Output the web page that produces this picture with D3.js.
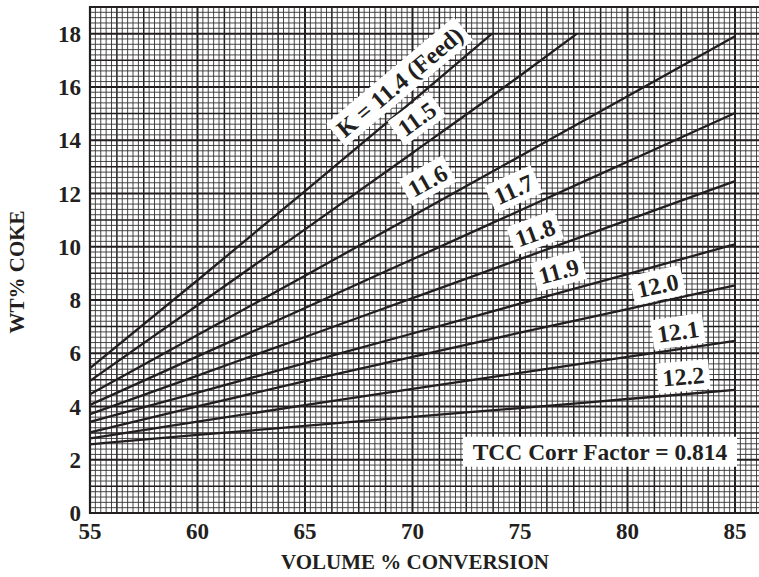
<!DOCTYPE html>
<html>
<head>
<meta charset="utf-8">
<script src="https://cdn.jsdelivr.net/npm/d3@7"></script>
<style>
    body { margin: 0; background: #fff; }
    text { font-family: "Liberation Serif", "Times New Roman", serif; font-weight: bold; fill: #231f20; }
</style>
</head>
<body>
<div id="chart"></div>
<script>

// Volume % conversion points where each curve was read
const conversion = [55, 60, 65, 70, 75, 80, 85];
const conv114 = [55, 60, 65, 70, 73.7];
const conv115 = [55, 60, 65, 70, 75, 77.65];

// Wt% coke for each K factor
const coke114 = [5.44, 8.74, 12.09, 15.47, 18.0];
const coke115 = [4.96, 7.80, 10.65, 13.52, 16.42, 18.0];
const coke116 = [4.46, 6.68, 8.91, 11.15, 13.40, 15.65, 17.90];
const coke117 = [4.06, 5.88, 7.70, 9.53, 11.36, 13.19, 15.02];
const coke118 = [3.71, 5.16, 6.61, 8.07, 9.53, 11.00, 12.46];
const coke119 = [3.42, 4.52, 5.63, 6.74, 7.86, 8.97, 10.09];
const coke120 = [3.03, 4.00, 4.95, 5.86, 6.77, 7.66, 8.55];
const coke121 = [2.80, 3.43, 4.05, 4.66, 5.26, 5.86, 6.46];
const coke122 = [2.58, 2.93, 3.27, 3.61, 3.94, 4.28, 4.62];

const kNames = ["K = 11.4 (Feed)", "11.5", "11.6", "11.7", "11.8", "11.9", "12.0", "12.1", "12.2"];

const xTicks = [55, 60, 65, 70, 75, 80, 85];
const yTicks = [0, 2, 4, 6, 8, 10, 12, 14, 16, 18];

const series = [
    {name: kNames[0], xs: conv114, ys: coke114},
    {name: kNames[1], xs: conv115, ys: coke115},
    {name: kNames[2], xs: conversion, ys: coke116},
    {name: kNames[3], xs: conversion, ys: coke117},
    {name: kNames[4], xs: conversion, ys: coke118},
    {name: kNames[5], xs: conversion, ys: coke119},
    {name: kNames[6], xs: conversion, ys: coke120},
    {name: kNames[7], xs: conversion, ys: coke121},
    {name: kNames[8], xs: conversion, ys: coke122}
];

// where each curve label sits (conversion value) and how far above the curve (px)
const labelPlace = [
    {at: 69.4, lift: 30},
    {at: 70.2, lift: 31},
    {at: 70.7, lift: 27},
    {at: 74.7, lift: 24},
    {at: 75.7, lift: 21},
    {at: 76.8, lift: 22},
    {at: 81.4, lift: 17},
    {at: 82.35, lift: 18},
    {at: 82.6, lift: 18}
];

const W = 759, H = 577;
const margin = {top: 7, left: 90, bottom: 64};

const svg = d3.select("#chart").append("svg")
    .attr("width", W)
    .attr("height", H);

// plot runs past the right edge, as in the scanned figure
const x = d3.scaleLinear().domain([55, 86.25]).range([margin.left, margin.left + 31.25 * 21.5]);
const y = d3.scaleLinear().domain([0, 19]).range([H - margin.bottom, margin.top]);

svg.append("defs").append("clipPath").attr("id", "plot")
    .append("rect")
    .attr("x", x(55)).attr("y", y(19))
    .attr("width", W - x(55)).attr("height", y(0) - y(19));

const grid = svg.append("g").attr("clip-path", "url(#plot)");

// graph paper: minor, medium and major rulings
const xMinor = d3.range(0, 126).map(i => 55 + i * 0.25);
const yMinor = d3.range(0, 96).map(i => +(i * 0.2).toFixed(2));

function rule(v, step) {
    return Math.abs(v / step - Math.round(v / step)) < 1e-6;
}

function xStyle(v) {
    if (rule(v - 55, 5)) return {c: "#231f20", w: 2};
    if (rule(v - 55, 1.25)) return {c: "#231f20", w: 1.5};
    return {c: "#333", w: 0.9};
}
function yStyle(v) {
    if (rule(v, 2)) return {c: "#231f20", w: 2};
    if (rule(v, 1)) return {c: "#231f20", w: 1.5};
    return {c: "#333", w: 0.9};
}

grid.selectAll(".vx")
    .data(xMinor)
    .enter().append("line")
    .attr("x1", d => x(d)).attr("x2", d => x(d))
    .attr("y1", y(19)).attr("y2", y(0))
    .attr("stroke", d => xStyle(d).c)
    .attr("stroke-width", d => xStyle(d).w);

grid.selectAll(".hy")
    .data(yMinor)
    .enter().append("line")
    .attr("x1", x(55)).attr("x2", W)
    .attr("y1", d => y(d)).attr("y2", d => y(d))
    .attr("stroke", d => yStyle(d).c)
    .attr("stroke-width", d => yStyle(d).w);

// frame (left, top, bottom)
svg.append("path")
    .attr("d", `M${W},${y(19)}H${x(55)}V${y(0)}H${W}`)
    .attr("fill", "none")
    .attr("stroke", "#231f20")
    .attr("stroke-width", 2.2);

// curves
const line = d3.line()
    .x(d => x(d[0]))
    .y(d => y(d[1]))
    .curve(d3.curveMonotoneX);

svg.append("g")
    .selectAll("path")
    .data(series)
    .enter().append("path")
    .attr("d", d => line(d.xs.map((v, i) => [v, d.ys[i]])))
    .attr("fill", "none")
    .attr("stroke", "#231f20")
    .attr("stroke-width", 2.3);

// curve labels on white boxes
function yAt(s, v) {
    return d3.scaleLinear().domain(s.xs).range(s.ys).clamp(true)(v);
}

const labels = svg.append("g")
    .selectAll("g")
    .data(series)
    .enter().append("g")
    .attr("transform", (d, i) => {
        const p = labelPlace[i];
        const px = x(p.at);
        const py = y(yAt(d, p.at));
        const slope = (y(yAt(d, p.at + 0.5)) - y(yAt(d, p.at - 0.5))) / (x(p.at + 0.5) - x(p.at - 0.5));
        const ang = Math.atan(slope) * 180 / Math.PI;
        return `translate(${px},${py - p.lift}) rotate(${ang})`;
    });

labels.append("text")
    .attr("text-anchor", "middle")
    .attr("dy", "0.35em")
    .style("font-size", "24px")
    .text(d => d.name);

labels.insert("rect", "text")
    .each(function() {
        const t = d3.select(this.parentNode).select("text").node();
        const len = t.getComputedTextLength();
        d3.select(this)
            .attr("x", -len / 2 - 5)
            .attr("y", -15)
            .attr("width", len + 10)
            .attr("height", 30)
            .attr("fill", "#fff");
    });

// correction factor note
const note = svg.append("g")
    .attr("transform", `translate(${x(78.72)},${y(2.3)})`);
note.append("rect")
    .attr("x", -137).attr("y", -15)
    .attr("width", 274).attr("height", 30)
    .attr("fill", "#fff");
note.append("text")
    .attr("text-anchor", "middle")
    .attr("dy", "0.35em")
    .style("font-size", "23.5px")
    .text("TCC Corr Factor = 0.814");

// axes labels
svg.append("g")
    .selectAll("text")
    .data(xTicks)
    .enter().append("text")
    .attr("x", d => x(d))
    .attr("y", y(0) + 26)
    .attr("text-anchor", "middle")
    .style("font-size", "23px")
    .text(d => d);

svg.append("g")
    .selectAll("text")
    .data(yTicks)
    .enter().append("text")
    .attr("x", x(55) - 9)
    .attr("y", d => y(d))
    .attr("dy", "0.36em")
    .attr("text-anchor", "end")
    .style("font-size", "23px")
    .text(d => d);

svg.append("text")
    .attr("x", 415)
    .attr("y", 569)
    .attr("text-anchor", "middle")
    .style("font-size", "21px")
    .text("VOLUME % CONVERSION");

svg.append("text")
    .attr("transform", `translate(24,${272}) rotate(-90)`)
    .attr("text-anchor", "middle")
    .style("font-size", "21px")
    .text("WT% COKE");

</script>
</body>
</html>
